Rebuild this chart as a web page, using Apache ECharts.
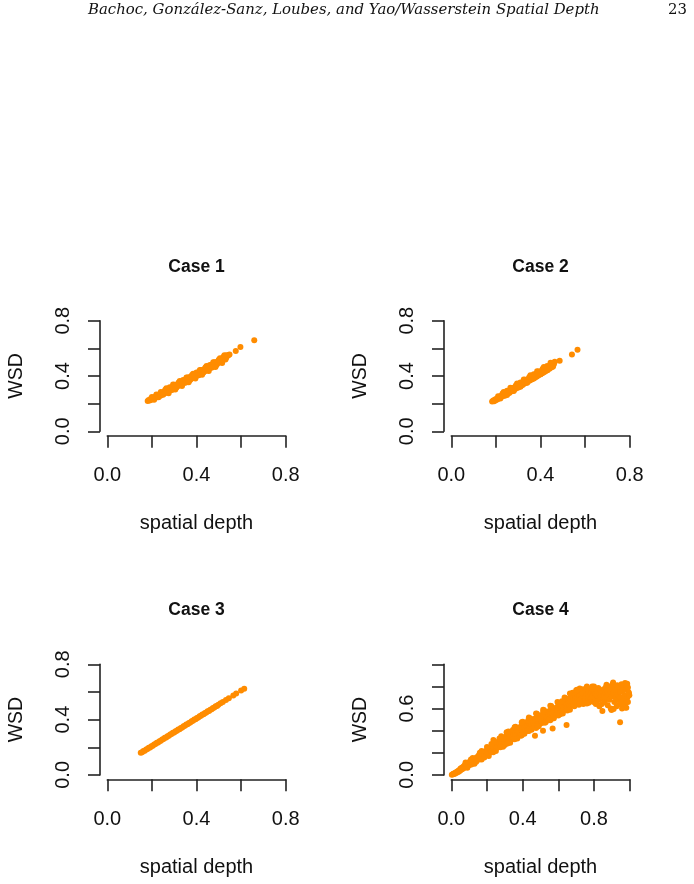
<!DOCTYPE html>
<html>
<head>
<meta charset="utf-8">
<title>WSD vs spatial depth</title>
<script src="https://cdn.jsdelivr.net/npm/echarts@6/dist/echarts.min.js"></script>
<style>
	html, body { margin: 0; padding: 0; background: #fff; }
	#chartBox { width: 694px; height: 884px; }
</style>
</head>
<body>
<div id="chartBox"></div>
<script>
// texts
var headerText = 'Bachoc, González-Sanz, Loubes, and Yao/Wasserstein Spatial Depth';
var pageNumber = '23';
var caseTitles = ['Case 1', 'Case 2', 'Case 3', 'Case 4'];
var xName = 'spatial depth';
var yName = 'WSD';

// ticks and labels
var ticksShort = [0, 0.2, 0.4, 0.6, 0.8];
var ticksLong = [0, 0.2, 0.4, 0.6, 0.8, 1.0];
var labelsShort = [0, 0.4, 0.8];
var labelsCase4Y = [0, 0.6];

// points, [spatial depth, WSD]
var case1 = [[0.181,0.219],[0.186,0.226],[0.19,0.222],[0.194,0.233],[0.198,0.228],[0.202,0.241],[0.206,0.234],[0.21,0.246],[0.214,0.24],[0.218,0.254],[0.222,0.246],[0.226,0.26],[0.23,0.252],[0.234,0.268],[0.238,0.258],[0.242,0.276],[0.246,0.266],[0.25,0.283],[0.254,0.272],[0.258,0.29],[0.262,0.279],[0.266,0.297],[0.27,0.286],[0.274,0.305],[0.278,0.293],[0.282,0.312],[0.286,0.3],[0.29,0.319],[0.294,0.307],[0.298,0.327],[0.302,0.314],[0.306,0.334],[0.31,0.321],[0.314,0.341],[0.318,0.328],[0.322,0.349],[0.326,0.335],[0.33,0.356],[0.334,0.342],[0.338,0.363],[0.342,0.349],[0.346,0.37],[0.35,0.356],[0.354,0.377],[0.358,0.363],[0.362,0.385],[0.366,0.37],[0.37,0.392],[0.374,0.377],[0.378,0.399],[0.382,0.384],[0.386,0.406],[0.39,0.392],[0.394,0.413],[0.398,0.399],[0.402,0.421],[0.406,0.406],[0.41,0.428],[0.414,0.413],[0.418,0.435],[0.422,0.42],[0.426,0.442],[0.43,0.428],[0.434,0.449],[0.438,0.435],[0.442,0.457],[0.446,0.443],[0.45,0.464],[0.454,0.451],[0.458,0.471],[0.462,0.458],[0.466,0.479],[0.47,0.466],[0.474,0.486],[0.478,0.474],[0.482,0.494],[0.486,0.482],[0.49,0.501],[0.494,0.49],[0.498,0.508],[0.503,0.5],[0.508,0.516],[0.513,0.51],[0.518,0.526],[0.523,0.52],[0.528,0.535],[0.533,0.532],[0.538,0.545],[0.543,0.55],[0.548,0.555],[0.576,0.581],[0.597,0.61],[0.659,0.658],
	[0.2,0.249],[0.22,0.266],[0.24,0.284],[0.26,0.301],[0.28,0.318],[0.3,0.336],[0.32,0.353],[0.34,0.371],[0.36,0.389],[0.38,0.407],[0.4,0.425],[0.42,0.443],[0.44,0.461],[0.46,0.48],[0.48,0.499],[0.5,0.518],[0.52,0.537],[0.535,0.55],
	[0.21,0.229],[0.23,0.247],[0.25,0.264],[0.27,0.281],[0.29,0.299],[0.31,0.316],[0.33,0.334],[0.35,0.352],[0.37,0.37],[0.39,0.388],[0.41,0.406],[0.43,0.424],[0.45,0.442],[0.47,0.461],[0.49,0.48],[0.51,0.5],[0.53,0.52],
	[0.265,0.311],[0.295,0.338],[0.325,0.364],[0.355,0.39],[0.385,0.417],[0.415,0.444],[0.445,0.472],[0.475,0.5],[0.505,0.529],[0.525,0.55],
	[0.275,0.276],[0.305,0.302],[0.335,0.328],[0.365,0.355],[0.395,0.382],[0.425,0.409],[0.455,0.436],[0.485,0.465],[0.515,0.494]];

var case2 = [[0.183,0.215],[0.188,0.222],[0.192,0.218],[0.196,0.23],[0.2,0.225],[0.204,0.238],[0.208,0.232],[0.212,0.246],[0.216,0.24],[0.22,0.254],[0.224,0.248],[0.228,0.262],[0.232,0.255],[0.236,0.27],[0.24,0.262],[0.244,0.278],[0.248,0.27],[0.252,0.286],[0.256,0.277],[0.26,0.294],[0.264,0.285],[0.268,0.302],[0.272,0.292],[0.276,0.31],[0.28,0.3],[0.284,0.318],[0.288,0.307],[0.292,0.326],[0.296,0.315],[0.3,0.334],[0.304,0.322],[0.308,0.342],[0.312,0.33],[0.316,0.35],[0.32,0.337],[0.324,0.358],[0.328,0.345],[0.332,0.366],[0.336,0.352],[0.34,0.374],[0.344,0.36],[0.348,0.382],[0.352,0.367],[0.356,0.39],[0.36,0.375],[0.364,0.398],[0.368,0.382],[0.372,0.406],[0.376,0.39],[0.38,0.414],[0.384,0.397],[0.388,0.422],[0.392,0.405],[0.396,0.43],[0.4,0.412],[0.404,0.437],[0.408,0.42],[0.412,0.445],[0.416,0.428],[0.42,0.452],[0.424,0.436],[0.428,0.46],[0.432,0.444],[0.436,0.467],[0.44,0.452],[0.444,0.474],[0.448,0.462],[0.452,0.48],[0.456,0.47],[0.46,0.485],[0.464,0.503],[0.486,0.51],[0.541,0.555],[0.566,0.59],
	[0.21,0.253],[0.23,0.273],[0.25,0.293],[0.27,0.313],[0.29,0.333],[0.31,0.353],[0.33,0.373],[0.35,0.393],[0.37,0.413],[0.39,0.433],[0.41,0.453],[0.43,0.473],[0.45,0.493],
	[0.22,0.237],[0.24,0.257],[0.26,0.277],[0.28,0.297],[0.3,0.317],[0.32,0.337],[0.34,0.357],[0.36,0.377],[0.38,0.397],[0.4,0.417],[0.42,0.437],[0.44,0.457],
	[0.235,0.285],[0.265,0.315],[0.295,0.345],[0.325,0.375],[0.355,0.405],[0.385,0.435],[0.415,0.465],[0.445,0.495],
	[0.25,0.262],[0.28,0.292],[0.31,0.322],[0.34,0.352],[0.37,0.382],[0.4,0.412],[0.43,0.442],[0.455,0.467]];

var case3 = [[0.15,0.16],[0.156,0.163],[0.162,0.172],[0.168,0.175],[0.174,0.184],[0.18,0.187],[0.186,0.196],[0.192,0.199],[0.198,0.208],[0.204,0.211],[0.21,0.22],[0.216,0.223],[0.222,0.232],[0.228,0.235],[0.234,0.244],[0.24,0.247],[0.246,0.256],[0.252,0.259],[0.258,0.268],[0.264,0.271],[0.27,0.28],[0.276,0.283],[0.282,0.292],[0.288,0.295],[0.294,0.304],[0.3,0.307],[0.306,0.316],[0.312,0.319],[0.318,0.328],[0.324,0.331],[0.33,0.34],[0.336,0.343],[0.342,0.352],[0.348,0.355],[0.354,0.364],[0.36,0.367],[0.366,0.376],[0.372,0.379],[0.378,0.388],[0.384,0.391],[0.39,0.4],[0.396,0.403],[0.402,0.412],[0.408,0.415],[0.414,0.424],[0.42,0.427],[0.426,0.436],[0.432,0.439],[0.438,0.448],[0.444,0.451],[0.45,0.46],[0.456,0.463],[0.462,0.472],[0.468,0.475],[0.474,0.484],[0.48,0.487],[0.486,0.496],[0.492,0.499],[0.498,0.507],[0.508,0.518],[0.518,0.527],[0.532,0.541],[0.545,0.555],[0.565,0.574],[0.578,0.588],[0.6,0.61],[0.614,0.623]];

var case4 = [[0.003,0.002],[0.008,0.006],[0.012,0.01],[0.015,0.008],[0.02,0.018],[0.022,0.012],[0.027,0.025],[0.03,0.02],[0.034,0.03],[0.037,0.026],[0.04,0.038],[0.043,0.03],[0.046,0.045],[0.05,0.04],[0.052,0.058],
	[0.055,0.048],[0.058,0.062],[0.06,0.052],[0.064,0.07],[0.066,0.058],[0.07,0.078],[0.072,0.064],[0.076,0.09],[0.078,0.07],[0.082,0.085],[0.085,0.076],[0.088,0.1],[0.09,0.082],[0.094,0.095],[0.097,0.11],[0.1,0.088],
	[0.103,0.12],[0.106,0.1],[0.11,0.115],[0.113,0.095],[0.116,0.128],[0.12,0.108],[0.123,0.13],[0.126,0.118],[0.13,0.14],[0.133,0.12],[0.136,0.148],[0.14,0.13],[0.143,0.16],[0.146,0.138],[0.15,0.152],
	[0.153,0.175],[0.156,0.14],[0.16,0.162],[0.163,0.185],[0.166,0.15],[0.17,0.17],[0.173,0.195],[0.176,0.16],[0.18,0.18],[0.183,0.2],[0.186,0.168],[0.19,0.19],[0.193,0.215],[0.196,0.178],[0.2,0.205],
	[0.203,0.225],[0.206,0.19],[0.21,0.215],[0.213,0.24],[0.216,0.2],[0.22,0.228],[0.223,0.25],[0.226,0.21],[0.23,0.24],[0.233,0.26],[0.236,0.316],[0.238,0.225],[0.242,0.255],[0.245,0.275],[0.248,0.235],[0.25,0.265],
	[0.254,0.29],[0.257,0.245],[0.26,0.275],[0.264,0.3],[0.267,0.255],[0.27,0.285],[0.274,0.31],[0.277,0.265],[0.28,0.295],[0.284,0.32],[0.287,0.275],[0.29,0.305],[0.294,0.33],[0.297,0.285],[0.3,0.315],
	[0.304,0.345],[0.307,0.29],[0.31,0.325],[0.314,0.355],[0.317,0.3],[0.32,0.335],[0.324,0.365],[0.327,0.31],[0.33,0.345],[0.334,0.375],[0.337,0.32],[0.34,0.355],[0.344,0.385],[0.347,0.33],[0.35,0.37],
	[0.354,0.395],[0.357,0.34],[0.36,0.38],[0.364,0.41],[0.367,0.35],[0.37,0.39],[0.374,0.42],[0.377,0.36],[0.38,0.4],[0.384,0.43],[0.387,0.37],[0.39,0.41],[0.394,0.445],[0.397,0.38],[0.4,0.42],
	[0.404,0.455],[0.407,0.385],[0.41,0.43],[0.414,0.465],[0.417,0.395],[0.42,0.44],[0.424,0.47],[0.427,0.4],[0.43,0.45],[0.434,0.48],[0.437,0.41],[0.44,0.455],[0.444,0.49],[0.447,0.42],[0.45,0.46],
	[0.454,0.5],[0.457,0.43],[0.46,0.47],[0.464,0.505],[0.467,0.44],[0.469,0.355],[0.47,0.48],[0.474,0.51],[0.477,0.45],[0.48,0.49],[0.484,0.525],[0.487,0.46],[0.49,0.5],[0.494,0.535],[0.497,0.465],[0.5,0.505],
	[0.504,0.54],[0.507,0.47],[0.51,0.51],[0.514,0.4],[0.516,0.55],[0.52,0.485],[0.523,0.52],[0.527,0.56],[0.53,0.49],[0.534,0.53],[0.537,0.565],[0.54,0.5],[0.544,0.54],[0.547,0.575],[0.55,0.51],
	[0.554,0.55],[0.557,0.585],[0.56,0.52],[0.564,0.56],[0.568,0.42],[0.57,0.595],[0.573,0.53],[0.577,0.57],[0.58,0.6],[0.584,0.54],[0.587,0.58],[0.59,0.61],[0.594,0.55],[0.597,0.59],[0.6,0.625],
	[0.604,0.56],[0.607,0.6],[0.61,0.635],[0.614,0.57],[0.617,0.61],[0.62,0.645],[0.624,0.58],[0.627,0.62],[0.63,0.655],[0.634,0.59],[0.637,0.63],[0.64,0.665],[0.644,0.6],[0.646,0.452],[0.647,0.64],[0.65,0.675],
	[0.654,0.61],[0.657,0.65],[0.66,0.69],[0.664,0.62],[0.667,0.66],[0.67,0.7],[0.674,0.63],[0.677,0.67],[0.68,0.71],[0.684,0.64],[0.687,0.685],[0.69,0.725],[0.694,0.65],[0.697,0.695],[0.7,0.735],
	[0.704,0.66],[0.707,0.705],[0.71,0.745],[0.714,0.67],[0.717,0.715],[0.72,0.76],[0.724,0.68],[0.727,0.725],[0.73,0.77],[0.734,0.69],[0.737,0.735],[0.74,0.775],[0.744,0.665],[0.747,0.74],[0.75,0.7],
	[0.754,0.76],[0.757,0.68],[0.76,0.72],[0.764,0.78],[0.767,0.7],[0.77,0.745],[0.774,0.765],[0.777,0.67],[0.78,0.73],[0.784,0.755],[0.787,0.69],[0.79,0.775],[0.794,0.72],[0.797,0.66],[0.8,0.745],
	[0.804,0.77],[0.807,0.7],[0.81,0.73],[0.814,0.65],[0.817,0.76],[0.82,0.71],[0.824,0.785],[0.827,0.68],[0.83,0.74],[0.834,0.765],[0.837,0.7],[0.84,0.72],[0.844,0.64],[0.847,0.578],[0.848,0.755],[0.85,0.69],
	[0.854,0.775],[0.857,0.72],[0.86,0.66],[0.864,0.745],[0.867,0.795],[0.87,0.7],[0.874,0.76],[0.877,0.63],[0.88,0.73],[0.884,0.8],[0.887,0.68],[0.89,0.75],[0.894,0.6],[0.897,0.78],[0.898,0.587],[0.9,0.71],
	[0.904,0.82],[0.907,0.835],[0.91,0.74],[0.914,0.66],[0.917,0.79],[0.92,0.7],[0.924,0.765],[0.927,0.62],[0.93,0.81],[0.934,0.725],[0.937,0.68],[0.94,0.79],[0.944,0.64],[0.946,0.475],[0.947,0.75],[0.95,0.7],
	[0.954,0.82],[0.957,0.6],[0.96,0.76],[0.964,0.68],[0.967,0.8],[0.97,0.72],[0.974,0.83],[0.975,0.61],[0.977,0.65],[0.98,0.77],[0.981,0.608],[0.984,0.81],[0.986,0.825],[0.987,0.7],[0.99,0.79],[0.993,0.75],[0.996,0.738],[0.998,0.72],
	[0.08,0.112],[0.12,0.152],[0.16,0.2],[0.2,0.252],[0.24,0.302],[0.28,0.35],[0.32,0.392],[0.36,0.435],[0.4,0.48],[0.44,0.512],[0.48,0.552],[0.52,0.585],[0.56,0.622],[0.6,0.652],[0.64,0.692],[0.68,0.742],[0.72,0.782],[0.76,0.8],[0.8,0.8],
	[0.09,0.065],[0.13,0.1],[0.17,0.14],[0.21,0.172],[0.25,0.215],[0.29,0.255],[0.33,0.29],[0.37,0.33],[0.41,0.372],[0.45,0.408],[0.49,0.44],[0.53,0.478],[0.57,0.512],[0.61,0.548],[0.65,0.582],[0.69,0.62],[0.73,0.648],[0.77,0.652],[0.81,0.64],
	[0.3,0.27],[0.345,0.405],[0.39,0.355],[0.43,0.49],[0.475,0.425],[0.515,0.57],[0.555,0.495],[0.6,0.538],[0.62,0.665],[0.66,0.595],[0.7,0.765],[0.74,0.64],[0.79,0.8],[0.83,0.62],[0.87,0.815],[0.91,0.595],[0.96,0.64],[0.99,0.66],
	[0.11,0.14],[0.17,0.215],[0.225,0.28],[0.27,0.33],[0.31,0.385],[0.355,0.43],[0.395,0.475],[0.435,0.52],[0.475,0.555],[0.515,0.59],[0.555,0.625],[0.595,0.66],[0.635,0.7],[0.665,0.735],[0.705,0.77],
	[0.14,0.118],[0.185,0.158],[0.235,0.205],[0.275,0.25],[0.315,0.285],[0.355,0.322],[0.395,0.358],[0.435,0.398],[0.485,0.438],[0.525,0.472],[0.575,0.512],[0.625,0.556],[0.665,0.59],[0.715,0.635],[0.76,0.645]];

window.addEventListener('load', function() {
	var myChart = echarts.init(document.getElementById('chartBox'));

	var font = 'Liberation Sans, Arial, Helvetica, sans-serif';
	var ink = '#111';
	var axisStyle = { color: '#222', width: 1.6 };
	var dotColor = '#ff8c00';

	// plot regions of the 2x2 layout
	var panels = [
		{ data: case1, left: 107.3, top: 320.7, max: 0.8, xt: ticksShort, yt: ticksShort, xl: labelsShort, yl: labelsShort },
		{ data: case2, left: 451.3, top: 320.7, max: 0.8, xt: ticksShort, yt: ticksShort, xl: labelsShort, yl: labelsShort },
		{ data: case3, left: 107.3, top: 664.3, max: 0.8, xt: ticksShort, yt: ticksShort, xl: labelsShort, yl: labelsShort },
		{ data: case4, left: 451.3, top: 664.3, max: 1.0, xt: ticksLong, yt: ticksLong, xl: labelsShort, yl: labelsCase4Y }
	];
	var plotW = 178.4, plotH = 110.6;

	function fmt(v) { return Number(v).toFixed(1); }

	var grids = [], xAxes = [], yAxes = [], series = [];
	var titles = [
		{ text: headerText, left: 88, top: 3, padding: 0,
		  textStyle: { fontFamily: 'DejaVu Serif, serif', fontStyle: 'italic', fontWeight: 'normal', fontSize: 14.9, color: '#111' } },
		{ text: pageNumber, left: 668, top: 3, padding: 0,
		  textStyle: { fontFamily: 'DejaVu Serif, serif', fontWeight: 'normal', fontSize: 14.9, color: '#111' } }
	];

	panels.forEach(function(p, i) {
		grids.push({ left: p.left, top: p.top, width: plotW, height: plotH, containLabel: false });
		titles.push({
			text: caseTitles[i], left: p.left + plotW / 2, top: p.top - 63, textAlign: 'center', padding: 0,
			textStyle: { fontFamily: font, fontWeight: 'bold', fontSize: 17.5, color: ink }
		});
		xAxes.push({
			type: 'value', gridIndex: i, min: 0, max: p.max, interval: 0.2, offset: 4.4,
			axisLine: { show: true, onZero: false, lineStyle: axisStyle },
			axisTick: { show: true, length: 12, lineStyle: axisStyle, customValues: p.xt },
			axisLabel: { customValues: p.xl, formatter: fmt, margin: 30, fontSize: 20, fontFamily: font, color: ink },
			splitLine: { show: false },
			name: xName, nameLocation: 'middle', nameGap: 78,
			nameTextStyle: { fontSize: 20, fontFamily: font, color: ink }
		});
		yAxes.push({
			type: 'value', gridIndex: i, min: 0, max: p.max, interval: 0.2, offset: 7.3,
			axisLine: { show: true, onZero: false, lineStyle: axisStyle },
			axisTick: { show: true, length: 12, lineStyle: axisStyle, customValues: p.yt },
			axisLabel: { customValues: p.yl, formatter: fmt, rotate: 90, margin: 26.5, fontSize: 20, fontFamily: font, color: ink },
			splitLine: { show: false },
			name: yName, nameLocation: 'middle', nameGap: 73.5,
			nameTextStyle: { fontSize: 19.5, fontFamily: font, color: ink }
		});
		series.push({
			type: 'scatter', xAxisIndex: i, yAxisIndex: i, data: p.data,
			symbol: 'circle', symbolSize: 6, clip: false,
			itemStyle: { color: dotColor, opacity: 1 },
			silent: true
		});
	});

	var option = {
		backgroundColor: '#ffffff',
		animation: false,
		title: titles,
		grid: grids,
		xAxis: xAxes,
		yAxis: yAxes,
		series: series
	};
	myChart.setOption(option);
});
</script>
</body>
</html>
